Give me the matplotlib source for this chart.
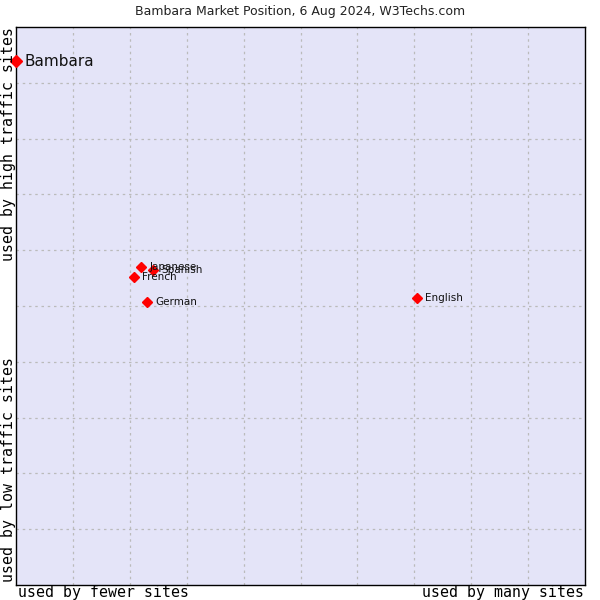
import matplotlib
matplotlib.use('Agg')
import matplotlib.pyplot as plt

# data (0..100 on both axes)
names = ['Japanese', 'Spanish', 'French', 'German', 'English']
xs = [22.0, 24.1, 20.7, 23.0, 70.5]
ys = [57.0, 56.5, 55.2, 50.7, 51.4]
main_name = 'Bambara'
main_x = 0.0
main_y = 93.9

fig = plt.figure(figsize=(6, 6), dpi=100)
ax = fig.add_axes([16/600, 15/600, 569/600, 558/600])
ax.set_facecolor('#e4e4f8')
ax.set_xlim(0, 100)
ax.set_ylim(0, 100)
ax.set_xticks([i*10 for i in range(1, 10)])
ax.set_yticks([i*10 for i in range(1, 10)])
ax.tick_params(length=0, labelbottom=False, labelleft=False)
ax.grid(True, color='#bbbbbb', linestyle=(0, (2, 3)), linewidth=0.9)
for s in ax.spines.values():
    s.set_linewidth(1.0)
    s.set_color('black')

ax.plot(xs, ys, 'D', color='red', markersize=5.5, linestyle='none', clip_on=False, zorder=3)
for n, x, y in zip(names, xs, ys):
    ax.annotate(n, (x, y), xytext=(6, 0), textcoords='offset points',
                fontsize=7.5, va='center', ha='left', color='#111111', family='DejaVu Sans')
ax.plot([main_x], [main_y], 'D', color='red', markersize=6.5, clip_on=False, zorder=4)
ax.annotate(main_name, (main_x, main_y), xytext=(6, 0), textcoords='offset points',
            fontsize=11, va='center', ha='left', color='#111111', family='DejaVu Sans')

fig.text(0.5, 1 - 12/600, 'Bambara Market Position, 6 Aug 2024, W3Techs.com',
         ha='center', va='center', fontsize=9, color='#222222')
mono = 'DejaVu Sans Mono'
fs = 10.7
fig.text(18/600, 1 - 592/600, 'used by fewer sites', ha='left', va='center', fontsize=fs, family=mono)
fig.text(584/600, 1 - 592/600, 'used by many sites', ha='right', va='center', fontsize=fs, family=mono)
fig.text(9/600, 1 - 582/600, 'used by low traffic sites', ha='center', va='bottom', rotation=90, fontsize=fs, family=mono)
fig.text(9/600, 1 - 27/600, 'used by high traffic sites', ha='center', va='top', rotation=90, fontsize=fs, family=mono)

fig.savefig('out.png', dpi=100)
